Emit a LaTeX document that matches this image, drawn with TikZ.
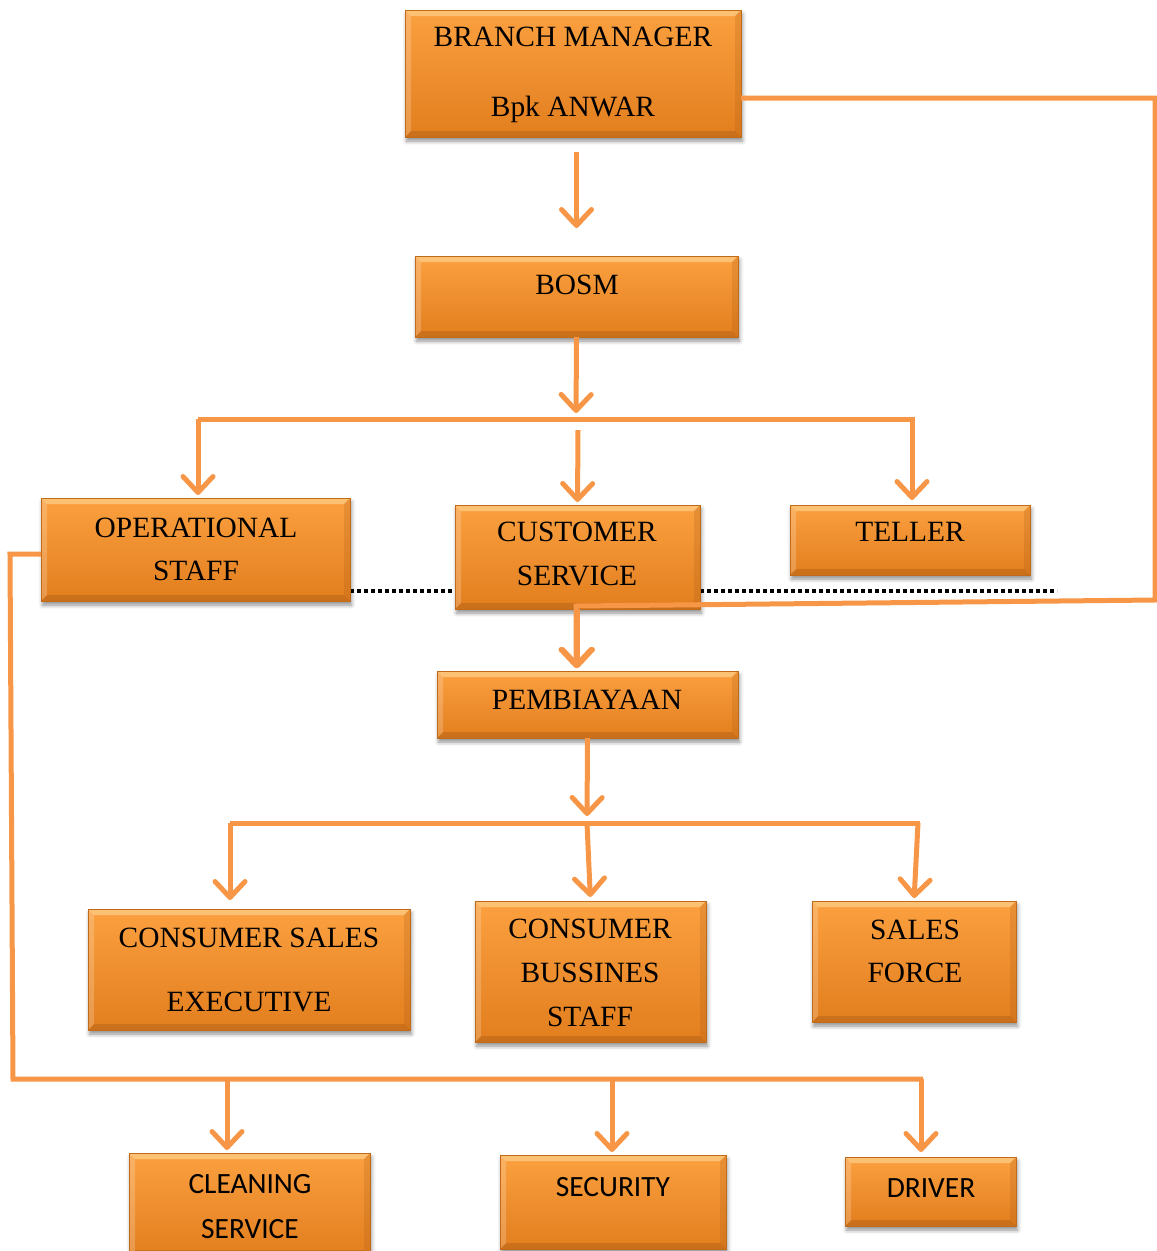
\documentclass[tikz,border=0pt]{standalone}
\usepackage{fontspec}
\setmainfont{Liberation Serif}
\newfontfamily\calfont{Carlito}
\usetikzlibrary{arrows.meta,shadows.blur,backgrounds}
\definecolor{lineor}{HTML}{F79646}
\definecolor{boxtop}{HTML}{FBA040}
\definecolor{boxbot}{HTML}{E27E1E}
\definecolor{bevlight}{HTML}{FFD08A}
\definecolor{bevdark}{HTML}{A85A14}
\def\ppb{path picture bounding box}
\tikzset{
  orgbox/.style={draw=boxbot!85!black, line width=0.6pt, top color=boxtop, bottom color=boxbot,
    inner sep=0pt, outer sep=0pt, anchor=north west,
    blur shadow={shadow xshift=1.5pt, shadow yshift=-4pt, shadow blur radius=4pt, shadow opacity=45},
    path picture={
      \fill[bevlight, opacity=0.7] (\ppb.north west) -- (\ppb.north east) -- ([xshift=-6pt,yshift=-6pt]\ppb.north east) -- ([xshift=6pt,yshift=-6pt]\ppb.north west) -- cycle;
      \fill[bevdark, opacity=0.4] (\ppb.south west) -- (\ppb.south east) -- ([xshift=-6pt,yshift=6pt]\ppb.south east) -- ([xshift=6pt,yshift=6pt]\ppb.south west) -- cycle;
      \fill[white, opacity=0.2] (\ppb.north west) -- ([xshift=6pt,yshift=-6pt]\ppb.north west) -- ([xshift=6pt,yshift=6pt]\ppb.south west) -- (\ppb.south west) -- cycle;
      \fill[bevdark, opacity=0.22] (\ppb.north east) -- ([xshift=-6pt,yshift=-6pt]\ppb.north east) -- ([xshift=-6pt,yshift=6pt]\ppb.south east) -- (\ppb.south east) -- cycle;
    }},
  txt/.style={anchor=base, inner sep=0pt, font=\fontsize{29.4}{35}\selectfont},
  ctxt/.style={anchor=base, inner sep=0pt, font=\calfont\fontsize{29.4}{35}\selectfont},
  conn/.style={draw=lineor, line width=5pt, line join=miter},
  arr/.style={conn, -{Straight Barb[length=16pt,width=30pt,round]}},
  dotline/.style={draw=black, line width=4pt, dash pattern=on 4pt off 3pt}
}
\begin{document}
\begin{tikzpicture}[x=1pt,y=-1pt]
\useasboundingbox (0,0) rectangle (1157,1251);

% boxes
\node[orgbox, minimum width=336pt, minimum height=127pt] (bm) at (405,10) {};
\node[orgbox, minimum width=323pt, minimum height=81pt] (bosm) at (415,256) {};
\node[orgbox, minimum width=309pt, minimum height=103pt] (ops) at (41,498) {};
\node[orgbox, minimum width=245pt, minimum height=104pt] (cs) at (455,505) {};
\node[orgbox, minimum width=240pt, minimum height=70pt] (tel) at (790,505) {};
\node[orgbox, minimum width=301pt, minimum height=67pt] (pemb) at (437,671) {};
\node[orgbox, minimum width=322pt, minimum height=121pt] (cse) at (88,909) {};
\node[orgbox, minimum width=231pt, minimum height=141pt] (cbs) at (475,901) {};
\node[orgbox, minimum width=204pt, minimum height=121pt] (sf) at (812,901) {};
\node[orgbox, minimum width=241pt, minimum height=103pt] (cln) at (129,1153) {};
\node[orgbox, minimum width=226pt, minimum height=94pt] (sec) at (500,1155) {};
\node[orgbox, minimum width=171pt, minimum height=69pt] (drv) at (845,1157) {};

% texts
\node[txt] (bm-t1) at (573,46) {BRANCH MANAGER};
\node[txt] (bm-t2) at (573,116) {Bpk ANWAR};
\node[txt] (bosm-t) at (577,294) {BOSM};
\node[txt] (ops-t1) at (196,537) {OPERATIONAL};
\node[txt] (ops-t2) at (196,580) {STAFF};
\node[txt] (cs-t1) at (577,541.5) {CUSTOMER};
\node[txt] (cs-t2) at (577,585) {SERVICE};
\node[txt] (tel-t) at (910,541.5) {TELLER};
\node[txt] (pemb-t) at (587,709) {PEMBIAYAAN};
\node[txt] (cse-t1) at (249,947) {CONSUMER SALES};
\node[txt] (cse-t2) at (249,1011) {EXECUTIVE};
\node[txt] (cbs-t1) at (590,938) {CONSUMER};
\node[txt] (cbs-t2) at (590,982) {BUSSINES};
\node[txt] (cbs-t3) at (590,1026) {STAFF};
\node[txt] (sf-t1) at (915,939) {SALES};
\node[txt] (sf-t2) at (915,982) {FORCE};
\node[ctxt] (cln-t1) at (250,1193) {CLEANING};
\node[ctxt] (cln-t2) at (250,1238) {SERVICE};
\node[ctxt] (sec-t) at (613,1196.5) {SECURITY};
\node[ctxt] (drv-t) at (931,1197) {DRIVER};

% coordinates
\coordinate (j1) at (576,419);
\coordinate (b1l) at (198,419);
\coordinate (b1r) at (912,419);
\coordinate (b1rr) at (915,419);
\coordinate (b1m) at (578,430);
\coordinate (r1) at (1155,98);
\coordinate (r2) at (1155,600);
\coordinate (r3) at (576,606);
\coordinate (j2) at (587,823);
\coordinate (b2l) at (230,823);
\coordinate (b2r) at (920,823);
\coordinate (b2rr) at (918,823);
\coordinate (l1) at (10,554);
\coordinate (l2) at (13,1079);
\coordinate (l3) at (923,1079);
\coordinate (c1) at (227,1079);
\coordinate (c2) at (612,1079);
\coordinate (c3) at (921,1079);
\coordinate (dotend) at (1057,591);

% dotted line behind boxes
\begin{pgfonlayer}{background}
\draw[dotline] (ops.east |- dotend) -- (dotend);
\end{pgfonlayer}

% connectors
\draw[arr, shorten <=15pt, shorten >=28pt] (bosm.north |- bm.south) -- (bosm.north);
\draw[arr, shorten >=6pt] (bosm.south) -- (j1);
\draw[conn] (b1l) -- (b1rr);
\draw[arr, shorten >=3pt] (b1l) -- (b1l |- ops.north);
\draw[arr, shorten >=3pt] (b1m) -- (cs.north);
\draw[arr, shorten >=5pt] (b1r) -- (b1r |- tel.north);
\draw[arr, shorten >=3pt] (bm.east |- r1) -- (r1) -- (r2) -- (r3) -- (r3 |- pemb.north);
\draw[arr, shorten >=3pt] (cs.south) -- (cs.south |- pemb.north);
\draw[arr, shorten >=7pt] (pemb.south) -- (j2);
\draw[conn] (b2l) -- (b2r);
\draw[arr, shorten >=9pt] (b2l) -- (b2l |- cse.north);
\draw[arr, shorten >=4pt] (j2) -- (cbs.north);
\draw[arr, shorten >=3pt] (b2rr) -- (sf.north);
\draw[conn] (ops.west |- l1) -- (l1) -- (l2) -- (l3);
\draw[arr, shorten >=3pt] (c1) -- (c1 |- cln.north);
\draw[arr, shorten >=3pt] (c2) -- (c2 |- sec.north);
\draw[arr, shorten >=5pt] (c3) -- (c3 |- drv.north);
\end{tikzpicture}
\end{document}
